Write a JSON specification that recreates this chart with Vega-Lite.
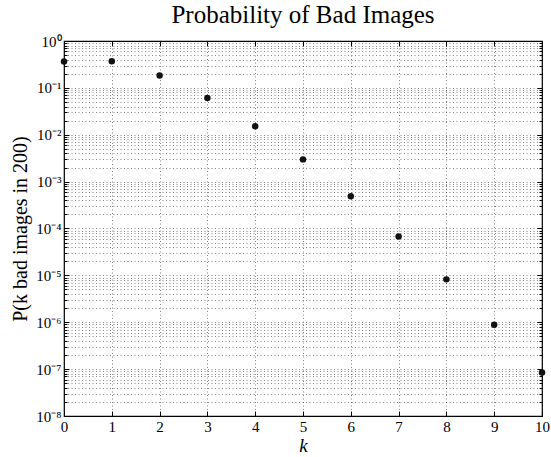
{
  "$schema": "https://vega.github.io/schema/vega-lite/v6.json",
  "width": 478,
  "height": 375,
  "autosize": "none",
  "padding": {"left": 64, "top": 41, "right": 9, "bottom": 41},
  "background": "white",
  "title": {"text": "Probability of Bad Images", "font": "Times New Roman", "fontSize": 25, "fontWeight": "normal", "color": "#000", "offset": 6},
  "config": {
    "view": {"stroke": "#000", "strokeWidth": 1.2},
    "axis": {"labelFont": "Times New Roman", "titleFont": "Times New Roman", "labelColor": "#000", "titleColor": "#000", "domain": false, "tickColor": "#000", "gridColor": "#000", "gridDash": [1, 2.5], "gridOpacity": 0.6, "gridWidth": 0.8}
  },
  "data": {"values": [
    {"k": 0, "p": 0.3670},
    {"k": 1, "p": 0.3688},
    {"k": 2, "p": 0.1844},
    {"k": 3, "p": 0.06116},
    {"k": 4, "p": 0.01514},
    {"k": 5, "p": 0.002982},
    {"k": 6, "p": 0.000487},
    {"k": 7, "p": 0.0000678},
    {"k": 8, "p": 0.00000822},
    {"k": 9, "p": 0.000000881},
    {"k": 10, "p": 0.0000000846}
  ]},
  "layer": [
    {
      "mark": {"type": "point", "filled": true, "color": "#111", "opacity": 1, "size": 42, "clip": false},
      "encoding": {
        "x": {"field": "k", "type": "quantitative", "scale": {"domain": [0, 10], "nice": false, "zero": false},
          "axis": {"orient": "bottom", "values": [0,1,2,3,4,5,6,7,8,9,10], "title": "k", "titleFontStyle": "italic", "titleFontWeight": "normal", "titleFontSize": 19, "titlePadding": 2, "labelFontSize": 15, "tickSize": -5, "labelPadding": 8, "grid": true, "labelFlush": false}},
        "y": {"field": "p", "type": "quantitative", "scale": {"type": "log", "domain": [1e-8, 1], "nice": false},
          "axis": {"orient": "left", "title": "P(k bad images in 200)", "titleFontWeight": "normal", "titleFontSize": 20, "titlePadding": 5, "labelFontSize": 15, "labelPadding": 8, "grid": true, "labelOverlap": false, "labelFlush": false,
            "tickSize": {"condition": {"test": "abs(log(datum.value)/LN10 - round(log(datum.value)/LN10)) < 0.001", "value": -5}, "value": -3},
            "values": [1e-8,2e-8,3e-8,4e-8,5e-8,6e-8,7e-8,8e-8,9e-8,1e-7,2e-7,3e-7,4e-7,5e-7,6e-7,7e-7,8e-7,9e-7,1e-6,2e-6,3e-6,4e-6,5e-6,6e-6,7e-6,8e-6,9e-6,1e-5,2e-5,3e-5,4e-5,5e-5,6e-5,7e-5,8e-5,9e-5,1e-4,2e-4,3e-4,4e-4,5e-4,6e-4,7e-4,8e-4,9e-4,1e-3,2e-3,3e-3,4e-3,5e-3,6e-3,7e-3,8e-3,9e-3,1e-2,2e-2,3e-2,4e-2,5e-2,6e-2,7e-2,8e-2,9e-2,0.1,0.2,0.3,0.4,0.5,0.6,0.7,0.8,0.9,1],
            "labelExpr": "abs(log(datum.value)/LN10 - round(log(datum.value)/LN10)) < 0.001 ? '10' + ['⁰','⁻¹','⁻²','⁻³','⁻⁴','⁻⁵','⁻⁶','⁻⁷','⁻⁸'][-round(log(datum.value)/LN10)] : ''"}}
      }
    },
    {
      "mark": {"type": "point", "opacity": 0},
      "encoding": {
        "x": {"field": "k", "type": "quantitative",
          "axis": {"orient": "top", "values": [0,1,2,3,4,5,6,7,8,9,10], "title": null, "labels": false, "tickSize": -5, "grid": false}},
        "y": {"field": "p", "type": "quantitative",
          "axis": {"orient": "right", "title": null, "labels": false, "grid": false,
            "tickSize": {"condition": {"test": "abs(log(datum.value)/LN10 - round(log(datum.value)/LN10)) < 0.001", "value": -5}, "value": -3},
            "values": [1e-8,2e-8,3e-8,4e-8,5e-8,6e-8,7e-8,8e-8,9e-8,1e-7,2e-7,3e-7,4e-7,5e-7,6e-7,7e-7,8e-7,9e-7,1e-6,2e-6,3e-6,4e-6,5e-6,6e-6,7e-6,8e-6,9e-6,1e-5,2e-5,3e-5,4e-5,5e-5,6e-5,7e-5,8e-5,9e-5,1e-4,2e-4,3e-4,4e-4,5e-4,6e-4,7e-4,8e-4,9e-4,1e-3,2e-3,3e-3,4e-3,5e-3,6e-3,7e-3,8e-3,9e-3,1e-2,2e-2,3e-2,4e-2,5e-2,6e-2,7e-2,8e-2,9e-2,0.1,0.2,0.3,0.4,0.5,0.6,0.7,0.8,0.9,1]}}
      }
    }
  ],
  "resolve": {"axis": {"x": "independent", "y": "independent"}}
}
